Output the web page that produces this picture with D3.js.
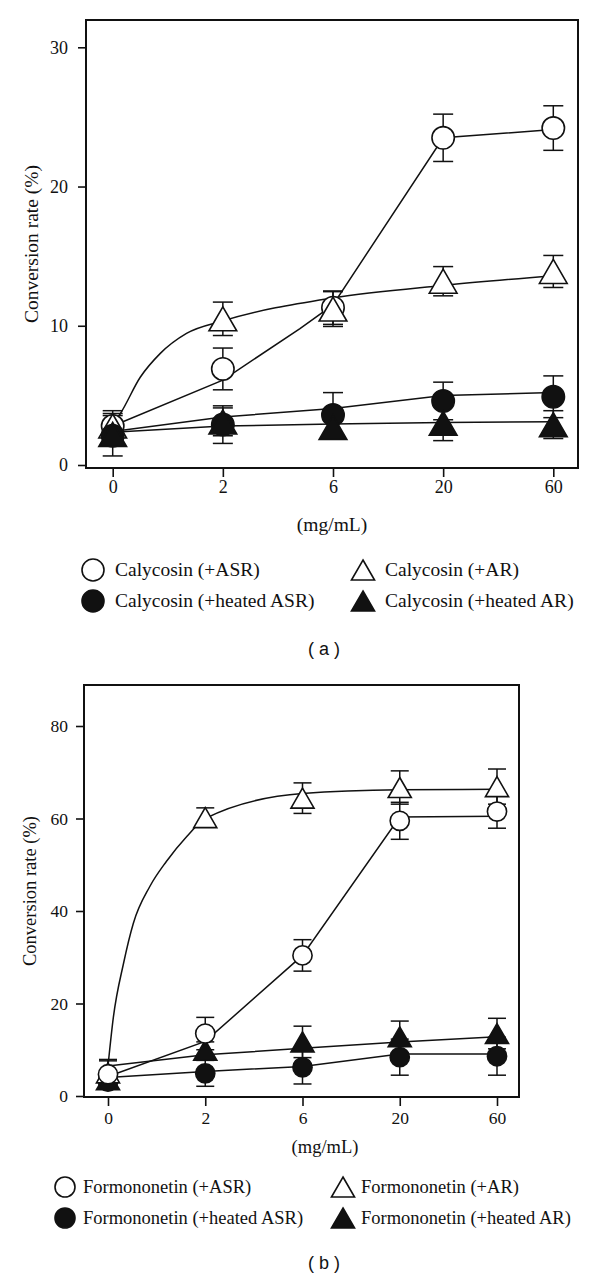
<!DOCTYPE html>
<html>
<head>
<meta charset="utf-8">
<script src="https://cdn.jsdelivr.net/npm/d3@7"></script>
<style>
  html, body { margin: 0; padding: 0; background: #fff; }
  svg { display: block; }
  .serif { font-family: 'Liberation Serif', 'Times New Roman', serif; fill: #111; }
  .sans { font-family: 'Liberation Sans', Arial, sans-serif; fill: #111; }
</style>
</head>
<body>
<svg id="chart" width="600" height="1280"></svg>
<script>
// x categories (mg/mL)
const doses = ['0', '2', '6', '20', '60'];
const calyTicks = [0, 10, 20, 30];
const formTicks = [0, 20, 40, 60, 80];

// (a) Calycosin: means, error, fitted curve as [dose index, value]
const calyASR = [2.8, 6.9, 11.3, 23.5, 24.2];
const calyASRErr = [1.1, 1.5, 1.2, 1.7, 1.6];
const calyASRFit = [[0, 2.8], [1, 6.1], [1.7, 9.8], [2, 11.5], [3, 23.5], [4, 24.1]];

const calyAR = [2.8, 10.5, 11.2, 13.2, 13.9];
const calyARErr = [0.9, 1.2, 1.25, 1.05, 1.15];
const calyARFit = [[0, 2.9], [0.07, 3.7], [0.25, 6.3], [0.43, 8.0], [0.67, 9.45], [1, 10.35], [2, 12.0], [3, 12.9], [4, 13.6]];

const calyHeatedASR = [2.1, 2.9, 3.6, 4.6, 4.9];
const calyHeatedASRErr = [1.45, 1.35, 1.6, 1.35, 1.5];
const calyHeatedASRFit = [[0, 2.4], [1, 3.45], [2, 4.05], [3, 5.0], [4, 5.2]];

const calyHeatedAR = [2.2, 3.1, 2.7, 3.0, 2.9];
const calyHeatedARErr = [0.8, 1.0, 0.55, 1.25, 1.0];
const calyHeatedARFit = [[0, 2.35], [1, 2.8], [2, 2.95], [3, 3.05], [4, 3.1]];

// (b) Formononetin
const formASR = [4.7, 13.5, 30.4, 59.5, 61.5];
const formASRErr = [3.2, 3.5, 3.4, 4.0, 3.6];
const formASRFit = [[0, 4.2], [1, 11.8], [2, 30.4], [3, 60.3], [4, 60.5]];

const formAR = [5.0, 60.2, 64.4, 66.7, 66.9];
const formARErr = [2.6, 2.1, 3.3, 3.6, 3.8];
const formARFit = [[0, 6.5], [0.055, 17], [0.16, 28.7], [0.26, 37.3], [0.43, 45.3], [0.6, 50.7], [0.81, 56.1], [1, 60.0], [2, 65.4], [3, 66.2], [4, 66.3]];

const formHeatedASR = [3.1, 4.9, 6.2, 8.4, 8.6];
const formHeatedASRErr = [1.5, 2.8, 3.6, 3.9, 4.1];
const formHeatedASRFit = [[0, 4.0], [1, 5.3], [2, 6.4], [3, 9.1], [4, 9.1]];

const formHeatedAR = [3.5, 9.9, 11.7, 12.8, 13.5];
const formHeatedARErr = [1.0, 1.8, 3.4, 3.4, 3.3];
const formHeatedARFit = [[0, 6.5], [1, 8.9], [2, 10.3], [3, 11.7], [4, 12.8]];

const svg = d3.select('#chart');
const INK = '#111';

// marker drawing: circle or triangle, open (white) or filled
function marker(sel, shape, filled, cx, cy, size) {
  if (shape === 'circle') {
    sel.append('circle')
      .attr('cx', cx).attr('cy', cy).attr('r', size)
      .attr('fill', filled ? INK : '#fff')
      .attr('stroke', INK).attr('stroke-width', 1.6);
  } else {
    // size = triangle height; shift so the bounding box centre sits on the point
    const k = size / 3;
    const area = k * k * 3 * Math.sqrt(3);
    sel.append('path')
      .attr('d', d3.symbol(d3.symbolTriangle, area)())
      .attr('transform', `translate(${cx},${cy + k / 2})`)
      .attr('fill', filled ? INK : '#fff')
      .attr('stroke', INK).attr('stroke-width', 1.6)
      .attr('stroke-linejoin', 'miter');
  }
}

function drawPanel(p) {
  const g = svg.append('g');
  const x = d3.scaleLinear().domain([0, doses.length - 1]).range([p.x0, p.x1]);
  const y = d3.scaleLinear().domain([0, p.yMax]).range([p.yBase, p.yTop]);

  // y axis ticks + labels
  const yAxis = g.append('g')
    .attr('transform', `translate(${p.left},0)`)
    .call(d3.axisLeft(y).tickValues(p.ticks).tickSize(8).tickPadding(p.yPad).tickFormat(d3.format('d')));
  yAxis.select('.domain').remove();

  // x axis ticks + labels
  const xAxis = g.append('g')
    .attr('transform', `translate(0,${p.bottom})`)
    .call(d3.axisBottom(x).tickValues(d3.range(doses.length)).tickSize(9).tickPadding(p.xPad).tickFormat(i => doses[i]));
  xAxis.select('.domain').remove();

  g.selectAll('.tick line').attr('stroke', INK).attr('stroke-width', 1.6);
  g.selectAll('.tick text')
    .attr('class', 'serif')
    .attr('font-size', p.tickFont)
    .attr('fill', INK);

  // frame
  g.append('rect')
    .attr('x', p.left).attr('y', p.top)
    .attr('width', p.right - p.left).attr('height', p.bottom - p.top)
    .attr('fill', 'none').attr('stroke', INK).attr('stroke-width', 2);

  // fitted curves: smooth saturation curves for AR, straight segments otherwise
  p.series.forEach(s => {
    const line = d3.line()
      .x(d => x(d[0]))
      .y(d => y(d[1]))
      .curve(s.smooth ? d3.curveMonotoneX : d3.curveLinear);
    g.append('path')
      .attr('d', line(s.fit))
      .attr('fill', 'none')
      .attr('stroke', INK)
      .attr('stroke-width', 1.5);
  });

  // error bars
  p.series.forEach(s => {
    s.values.forEach((v, i) => {
      const cx = x(i);
      const y1 = y(v - s.err[i]);
      const y2 = y(v + s.err[i]);
      g.append('line')
        .attr('x1', cx).attr('x2', cx).attr('y1', y1).attr('y2', y2)
        .attr('stroke', INK).attr('stroke-width', 1.5);
      [y1, y2].forEach(yy => {
        g.append('line')
          .attr('x1', cx - p.cap).attr('x2', cx + p.cap).attr('y1', yy).attr('y2', yy)
          .attr('stroke', INK).attr('stroke-width', 1.5);
      });
    });
  });

  // markers
  p.series.forEach(s => {
    s.values.forEach((v, i) => {
      marker(g, s.shape, s.filled, x(i), y(v), s.shape === 'circle' ? p.radius : p.triH);
    });
  });

  // axis titles
  g.append('text')
    .attr('class', 'serif')
    .attr('font-size', p.titleFont)
    .attr('text-anchor', 'middle')
    .attr('transform', `translate(${p.yTitleX},${(p.top + p.bottom) / 2}) rotate(-90)`)
    .attr('dy', '0.35em')
    .text('Conversion rate (%)');

  g.append('text')
    .attr('class', 'serif')
    .attr('font-size', p.titleFont)
    .attr('text-anchor', 'middle')
    .attr('x', p.xTitleX).attr('y', p.xTitleY)
    .text('(mg/mL)');

  // legend
  const leg = g.append('g');
  p.series.forEach(s => {
    const lx = p.legCols[s.col];
    const ly = p.legRows[s.row];
    marker(leg, s.shape, s.filled, lx, ly, s.shape === 'circle' ? p.legRadius : p.legTriH);
    leg.append('text')
      .attr('class', 'serif')
      .attr('font-size', p.legFont)
      .attr('x', lx + p.legGap)
      .attr('y', ly)
      .attr('dy', '0.3em')
      .text(s.label);
  });

  // panel letter
  g.append('text')
    .attr('class', 'sans')
    .attr('font-size', 18)
    .attr('text-anchor', 'middle')
    .attr('x', p.letterX).attr('y', p.letterY)
    .attr('xml:space', 'preserve')
    .text(p.letter);
}

drawPanel({
  left: 86, right: 578, top: 20, bottom: 468,
  x0: 112.7, x1: 553.3, yBase: 465, yTop: 47.3, yMax: 30,
  ticks: calyTicks, yPad: 10, xPad: 3, tickFont: 18,
  titleFont: 19.5, yTitleX: 31, xTitleX: 332, xTitleY: 531,
  cap: 10, radius: 11.2, triH: 24,
  legCols: [93, 363], legRows: [570, 601], legGap: 22, legFont: 19.5,
  legRadius: 11, legTriH: 20,
  letter: '( a )', letterX: 324, letterY: 655,
  series: [
    { label: 'Calycosin (+ASR)', values: calyASR, err: calyASRErr, fit: calyASRFit, smooth: false, shape: 'circle', filled: false, col: 0, row: 0 },
    { label: 'Calycosin (+AR)', values: calyAR, err: calyARErr, fit: calyARFit, smooth: true, shape: 'triangle', filled: false, col: 1, row: 0 },
    { label: 'Calycosin (+heated ASR)', values: calyHeatedASR, err: calyHeatedASRErr, fit: calyHeatedASRFit, smooth: false, shape: 'circle', filled: true, col: 0, row: 1 },
    { label: 'Calycosin (+heated AR)', values: calyHeatedAR, err: calyHeatedARErr, fit: calyHeatedARFit, smooth: false, shape: 'triangle', filled: true, col: 1, row: 1 }
  ]
});

drawPanel({
  left: 84, right: 519, top: 685, bottom: 1097,
  x0: 108, x1: 497, yBase: 1096, yTop: 726, yMax: 80,
  ticks: formTicks, yPad: 8, xPad: 6, tickFont: 17.5,
  titleFont: 18.5, yTitleX: 30, xTitleX: 325, xTitleY: 1153,
  cap: 9, radius: 9.6, triH: 20,
  legCols: [65, 343], legRows: [1187, 1218], legGap: 18, legFont: 18.5,
  legRadius: 10, legTriH: 20,
  letter: '( b )', letterX: 324, letterY: 1269,
  series: [
    { label: 'Formononetin (+heated AR)', values: formHeatedAR, err: formHeatedARErr, fit: formHeatedARFit, smooth: false, shape: 'triangle', filled: true, col: 1, row: 1 },
    { label: 'Formononetin (+heated ASR)', values: formHeatedASR, err: formHeatedASRErr, fit: formHeatedASRFit, smooth: false, shape: 'circle', filled: true, col: 0, row: 1 },
    { label: 'Formononetin (+AR)', values: formAR, err: formARErr, fit: formARFit, smooth: true, shape: 'triangle', filled: false, col: 1, row: 0 },
    { label: 'Formononetin (+ASR)', values: formASR, err: formASRErr, fit: formASRFit, smooth: false, shape: 'circle', filled: false, col: 0, row: 0 }
  ]
});
</script>
</body>
</html>
